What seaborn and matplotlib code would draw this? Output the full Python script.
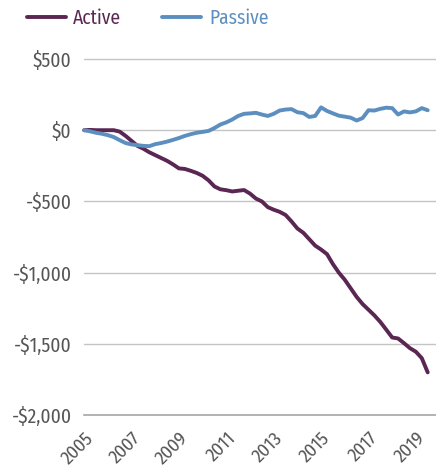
import numpy as np
import pandas as pd
import matplotlib
matplotlib.use("Agg")
import matplotlib.pyplot as plt
import seaborn as sns
from matplotlib.lines import Line2D

# ---- data (quarterly, $ cumulative flows) ----
start_year = 2005.0
active = [0, 2, 0, 0, 0, 0, -10, -40, -75, -110, -130, -155, -175, -195, -215, -240,
          -268, -272, -285, -300, -320, -352, -395, -415, -421, -430, -425, -420,
          -445, -480, -500, -540, -558, -573, -595, -640, -690, -720, -765, -810,
          -838, -870, -940, -1000, -1050, -1110, -1170, -1220, -1260, -1300, -1346,
          -1400, -1455, -1462, -1495, -1530, -1555, -1600, -1700]
passive = [0, -8, -18, -25, -35, -48, -70, -90, -100, -105, -110, -112, -98, -90, -80, -68,
           -55, -40, -28, -18, -12, -5, 15, 40, 55, 75, 100, 115, 118, 122, 110, 100,
           115, 138, 145, 148, 126, 120, 93, 100, 160, 135, 118, 102, 95, 88, 68, 85,
           140, 138, 150, 158, 155, 110, 132, 125, 132, 155, 140]
series_names = ["Active", "Passive"]
x_ticks = [2005, 2007, 2009, 2011, 2013, 2015, 2017, 2019]
y_ticks = [500, 0, -500, -1000, -1500, -2000]
y_labels = ["$500", "$0", "-$500", "-$1,000", "-$1,500", "-$2,000"]

years = start_year + np.arange(len(active)) * 0.25
df = pd.DataFrame({
    "year": np.concatenate([years, years]),
    "value": np.concatenate([active, passive]),
    "series": [series_names[0]] * len(active) + [series_names[1]] * len(passive),
})

sns.set_theme(style="white")
plt.rcParams["font.family"] = ["Fira Sans Condensed", "PT Sans Narrow",
                               "Archivo Narrow", "DejaVu Sans"]

colors = {"Active": "#5a2752", "Passive": "#5c8fc0"}
fig = plt.figure(figsize=(4.36, 4.68), dpi=100)
ax = fig.add_axes([0.193, 0.113, 0.807, 0.761])

sns.lineplot(data=df, x="year", y="value", hue="series", palette=colors,
             linewidth=2.8, ax=ax, legend=False)

ax.set_xlim(2005, 2019.85)
ax.set_ylim(-2000, 500)
ax.set_yticks(y_ticks)
ax.set_yticklabels(y_labels)
ax.set_xticks(x_ticks)
ax.set_xticklabels([str(t) for t in x_ticks], rotation=45, ha="right",
                   rotation_mode="anchor")
ax.set_xlabel("")
ax.set_ylabel("")

for y in [500, 0, -500, -1000, -1500]:
    ax.axhline(y, color="#c4c4c4", linewidth=1.0, zorder=0)

for s in ["top", "right", "left"]:
    ax.spines[s].set_visible(False)
ax.spines["bottom"].set_color("#a6a6a6")
ax.spines["bottom"].set_linewidth(1.2)

ax.tick_params(axis="y", length=0, pad=9, labelsize=14, labelcolor="#555555")
ax.tick_params(axis="x", length=6, width=1.2, color="#a6a6a6", direction="out",
               pad=4, labelsize=13.5, labelcolor="#555555")
for line in ax.lines:
    line.set_solid_capstyle("round")
    line.set_clip_on(False)

handles = [Line2D([0], [0], color=colors[n], linewidth=2.8) for n in series_names]
leg = fig.legend(handles, series_names, loc="center left",
                 bbox_to_anchor=(0.021, 0.962), ncol=2, frameon=False,
                 fontsize=14, handlelength=2.0, handletextpad=0.4,
                 columnspacing=2.1, labelcolor=[colors[n] for n in series_names])

fig.savefig("out.png", dpi=100)
